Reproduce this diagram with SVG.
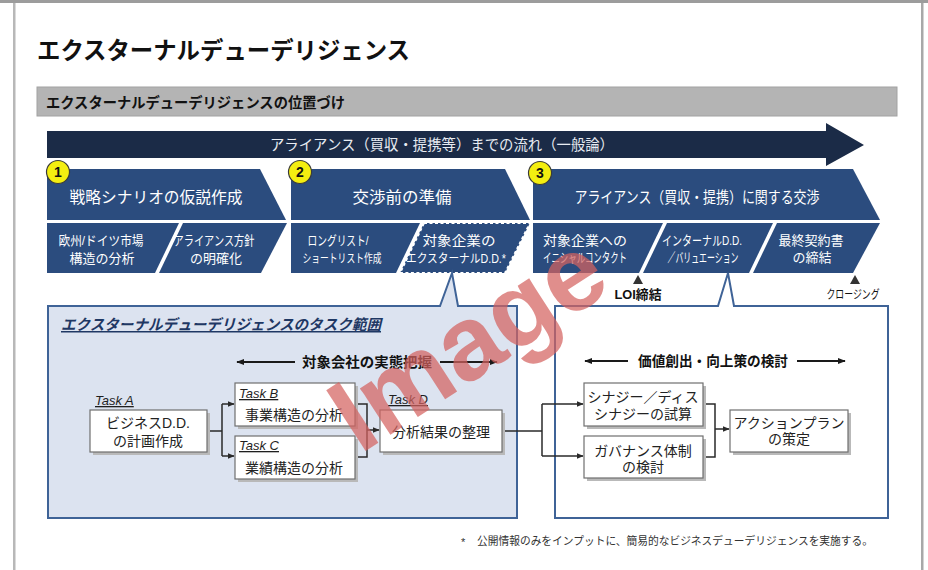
<svg xmlns="http://www.w3.org/2000/svg" width="928" height="570" viewBox="0 0 928 570">
<defs>
<style>
text{font-family:'Liberation Sans','Noto Sans CJK JP',sans-serif;}
.ph{fill:#2b4c7e;}
.wt{fill:#ffffff;font-size:13px;text-anchor:middle;}
.ht{fill:#ffffff;font-size:15.5px;text-anchor:middle;}
.num{fill:#f4ee10;stroke:#3a3a3a;stroke-width:1.2;}
.numt{font-size:14px;font-weight:bold;text-anchor:middle;fill:#111;}
.box{fill:#ffffff;stroke:#6f6f6f;stroke-width:1.2;}
.shd{fill:#b9b9b9;}
.bt{font-size:14px;fill:#222;text-anchor:middle;}
.task{font-size:13px;font-style:italic;text-decoration:underline;fill:#1f1f1f;}
.con{fill:none;stroke:#2a2a2a;stroke-width:1.5;}
.dbl{fill:none;stroke:#1a1a1a;stroke-width:2;}
</style>
<marker id="ah" viewBox="0 0 10 10" refX="9" refY="5" markerWidth="7" markerHeight="7" markerUnits="userSpaceOnUse" orient="auto">
<path d="M0,1 L10,5 L0,9 Z" fill="#2a2a2a"/>
</marker>
<marker id="ah2" viewBox="0 0 10 10" refX="9" refY="5" markerWidth="8" markerHeight="8" markerUnits="userSpaceOnUse" orient="auto-start-reverse">
<path d="M0,1 L10,5 L0,9 Z" fill="#1a1a1a"/>
</marker>
</defs>

<!-- page frame -->
<rect x="0" y="0" width="928" height="570" fill="#ffffff"/>
<rect x="0" y="0" width="928" height="3" fill="#9c9c9c"/>
<rect x="13" y="3" width="2.5" height="567" fill="#b8b8b8"/>
<rect x="921" y="3" width="2.5" height="567" fill="#a8a8a8"/>

<!-- title -->
<text x="37" y="59" font-size="23.5" font-weight="bold" fill="#111" textLength="373" lengthAdjust="spacingAndGlyphs">エクスターナルデューデリジェンス</text>

<!-- section band -->
<rect x="37" y="87" width="860" height="29" fill="#b4b4b4" stroke="#a2a2a2" stroke-width="1"/>
<text x="46" y="108" font-size="14.5" font-weight="bold" fill="#111" textLength="299" lengthAdjust="spacingAndGlyphs">エクスターナルデューデリジェンスの位置づけ</text>

<!-- big flow arrow -->
<g id="flow">
<path d="M47,131 L826,131 L826,123 L864,145 L826,166 L826,158 L47,158 Z" fill="#1b2b47"/>
<text x="442" y="150" font-size="14.5" fill="#e8ecf2" text-anchor="middle" textLength="344" lengthAdjust="spacingAndGlyphs">アライアンス（買収・提携等）までの流れ（一般論）</text>
</g>

<!-- phase 1 -->
<g id="phase1">
<polygon class="ph" points="47,169 260,169 286,220 47,220"/>
<polygon class="ph" points="47,223 179,223 155,273 47,273"/>
<polygon class="ph" points="183,223 287,223 261,273 159,273"/>
<text class="ht" x="156" y="203" textLength="173" lengthAdjust="spacingAndGlyphs">戦略シナリオの仮説作成</text>
<text class="wt" x="101" y="245" textLength="85" lengthAdjust="spacingAndGlyphs">欧州/ドイツ市場</text>
<text class="wt" x="102" y="263">構造の分析</text>
<text class="wt" x="214" y="245" textLength="81" lengthAdjust="spacingAndGlyphs">アライアンス方針</text>
<text class="wt" x="216" y="263">の明確化</text>
<circle class="num" cx="58" cy="172" r="11.5"/>
<text class="numt" x="58" y="177">1</text>
</g>

<!-- phase 2 -->
<g id="phase2">
<polygon class="ph" points="291,169 505,169 530,220 291,220"/>
<polygon class="ph" points="291,223 420,223 396,273 291,273"/>
<polygon class="ph" points="424,223 530,223 505,273 400,273"/>
<polygon points="424,223 530,223 505,273 400,273" fill="none" stroke="#ffffff" stroke-width="2" stroke-dasharray="3,2.5"/>
<text class="ht" x="402" y="203" textLength="99" lengthAdjust="spacingAndGlyphs">交渉前の準備</text>
<text class="wt" x="338" y="245" font-size="12" textLength="61" lengthAdjust="spacingAndGlyphs">ロングリスト/</text>
<text class="wt" x="342" y="263" style="font-size:12px" textLength="79" lengthAdjust="spacingAndGlyphs">ショートリスト作成</text>
<text class="wt" x="459" y="245" textLength="73" lengthAdjust="spacingAndGlyphs">対象企業の</text>
<text class="wt" x="456" y="263" style="font-size:12px" textLength="100" lengthAdjust="spacingAndGlyphs">エクスターナルD.D.*</text>
<circle class="num" cx="300" cy="172" r="11.5"/>
<text class="numt" x="300" y="177">2</text>
</g>

<!-- phase 3 -->
<g id="phase3">
<polygon class="ph" points="533,169 853,169 880,220 533,220"/>
<polygon class="ph" points="533,223 663,223 639,273 533,273"/>
<polygon class="ph" points="667,223 773,223 749,273 643,273"/>
<polygon class="ph" points="777,223 880,223 853,273 753,273"/>
<text class="ht" x="697" y="203" textLength="245" lengthAdjust="spacingAndGlyphs">アライアンス（買収・提携）に関する交渉</text>
<text class="wt" x="585" y="245" textLength="84" lengthAdjust="spacingAndGlyphs">対象企業への</text>
<text class="wt" x="585" y="262" textLength="84" lengthAdjust="spacingAndGlyphs">イニシャルコンタクト</text>
<text class="wt" x="702" y="245" textLength="80" lengthAdjust="spacingAndGlyphs">インターナルD.D.</text>
<text class="wt" x="703" y="262" textLength="71" lengthAdjust="spacingAndGlyphs">／バリュエーション</text>
<text class="wt" x="811" y="245" textLength="65" lengthAdjust="spacingAndGlyphs">最終契約書</text>
<text class="wt" x="812" y="262">の締結</text>
<circle class="num" cx="540" cy="173" r="11.5"/>
<text class="numt" x="540" y="178">3</text>
</g>

<!-- milestones -->
<g id="milestones">
<polygon points="638,275 643,284 633,284" fill="#333"/>
<text x="638" y="299" font-size="13" font-weight="bold" fill="#111" text-anchor="middle" textLength="47" lengthAdjust="spacingAndGlyphs">LOI締結</text>
<polygon points="855,275 860,284 850,284" fill="#333"/>
<text x="853" y="299" font-size="12" fill="#111" text-anchor="middle" textLength="53" lengthAdjust="spacingAndGlyphs">クロージング</text>
</g>

<!-- callout boxes -->
<g id="scope-left">
<path d="M48,306 L440,306 L452,273 L458,306 L517,306 L517,518 L48,518 Z" fill="#dce3f0" stroke="#3f6397" stroke-width="2"/>
<text x="61" y="330" font-size="15" font-weight="bold" font-style="italic" fill="#1f3864" text-decoration="underline" textLength="320" lengthAdjust="spacingAndGlyphs">エクスターナルデューデリジェンスのタスク範囲</text>
<line class="dbl" x1="237" y1="362" x2="295" y2="362" marker-start="url(#ah2)"/>
<line class="dbl" x1="440" y1="362" x2="497" y2="362" marker-end="url(#ah2)"/>
<text x="367" y="367" font-size="14" font-weight="bold" fill="#111" text-anchor="middle" textLength="130" lengthAdjust="spacingAndGlyphs">対象会社の実態把握</text>
</g>
<g id="scope-right">
<path d="M555,306 L718,306 L728,273 L734,306 L888,306 L888,518 L555,518 Z" fill="#ffffff" stroke="#3f6397" stroke-width="2"/>
<line class="dbl" x1="585" y1="361" x2="628" y2="361" marker-start="url(#ah2)"/>
<line class="dbl" x1="797" y1="361" x2="845" y2="361" marker-end="url(#ah2)"/>
<text x="713" y="366" font-size="14" font-weight="bold" fill="#111" text-anchor="middle" textLength="150" lengthAdjust="spacingAndGlyphs">価値創出・向上策の検討</text>
</g>

<!-- connectors -->
<g id="connectors">
<polyline class="con" points="207,431 222,431"/>
<polyline class="con" points="222,404 222,456"/>
<polyline class="con" points="222,404 234,404" marker-end="url(#ah)"/>
<polyline class="con" points="222,456 234,456" marker-end="url(#ah)"/>
<polyline class="con" points="355,404 367,404 367,457 355,457"/>
<polyline class="con" points="367,430 379,430" marker-end="url(#ah)"/>
<polyline class="con" points="502,431 542,431"/>
<polyline class="con" points="542,404 542,456"/>
<polyline class="con" points="542,404 583,404" marker-end="url(#ah)"/>
<polyline class="con" points="542,456 583,456" marker-end="url(#ah)"/>
<polyline class="con" points="703,404 715,404 715,457 703,457"/>
<polyline class="con" points="715,429 729,429" marker-end="url(#ah)"/>
</g>

<!-- task nodes -->
<g id="taskA">
<text class="task" x="95" y="405">Task A</text>
<rect class="shd" x="93" y="413" width="117" height="42"/>
<rect class="box" x="90" y="410" width="117" height="42"/>
<text class="bt" x="148" y="428">ビジネスD.D.</text>
<text class="bt" x="148" y="446">の計画作成</text>
</g>
<g id="taskB">
<rect class="shd" x="238" y="386" width="120" height="43"/>
<rect class="box" x="235" y="383" width="120" height="43"/>
<text class="task" x="239" y="398">Task B</text>
<text class="bt" x="294" y="420">事業構造の分析</text>
</g>
<g id="taskC">
<rect class="shd" x="238" y="439" width="120" height="43"/>
<rect class="box" x="235" y="436" width="120" height="43"/>
<text class="task" x="239" y="450">Task C</text>
<text class="bt" x="294" y="473">業績構造の分析</text>
</g>
<g id="taskD">
<text class="task" x="388" y="404">Task D</text>
<rect class="shd" x="383" y="413" width="122" height="42"/>
<rect class="box" x="380" y="410" width="122" height="42"/>
<text class="bt" x="441" y="437">分析結果の整理</text>
</g>
<g id="synergy">
<rect class="shd" x="587" y="386" width="119" height="43"/>
<rect class="box" x="584" y="383" width="119" height="43"/>
<text class="bt" x="643" y="402">シナジー／ディス</text>
<text class="bt" x="643" y="419">シナジーの試算</text>
</g>
<g id="governance">
<rect class="shd" x="587" y="439" width="119" height="42"/>
<rect class="box" x="584" y="436" width="119" height="42"/>
<text class="bt" x="643" y="456">ガバナンス体制</text>
<text class="bt" x="643" y="472">の検討</text>
</g>
<g id="actionplan">
<rect class="shd" x="733" y="413" width="118" height="42"/>
<rect class="box" x="730" y="410" width="118" height="42"/>
<text class="bt" x="789" y="428">アクションプラン</text>
<text class="bt" x="789" y="444">の策定</text>
</g>

<!-- footnote -->
<text x="461" y="546" font-size="11" fill="#333">*</text>
<text x="477" y="545" font-size="11" fill="#333" textLength="396" lengthAdjust="spacingAndGlyphs">公開情報のみをインプットに、簡易的なビジネスデューデリジェンスを実施する。</text>

<!-- watermark -->
<text x="0" y="0" transform="translate(487,372) rotate(-33)" font-size="105" font-weight="bold" fill="#d46360" fill-opacity="0.72" text-anchor="middle">Image</text>
</svg>
